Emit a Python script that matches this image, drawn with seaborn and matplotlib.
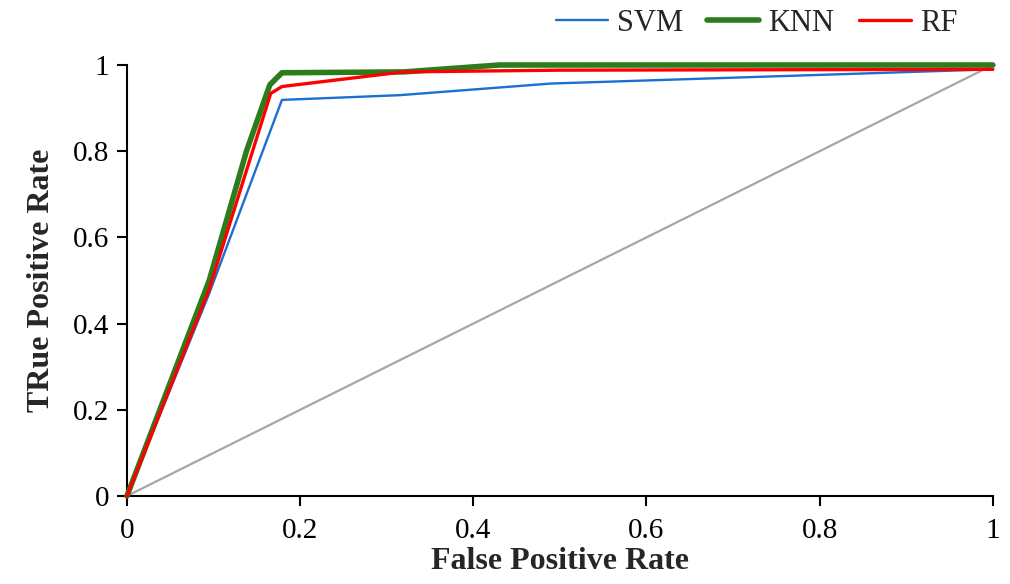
import numpy as np
import pandas as pd
import matplotlib
matplotlib.use("Agg")
import matplotlib.pyplot as plt
import seaborn as sns

# ROC points
svm_fpr = [0.0, 0.095, 0.179, 0.315, 0.49, 1.0]
svm_tpr = [0.0, 0.47, 0.919, 0.93, 0.957, 0.99]

knn_fpr = [0.0, 0.095, 0.138, 0.165, 0.179, 0.32, 0.43, 1.0]
knn_tpr = [0.0, 0.50, 0.80, 0.954, 0.982, 0.984, 1.0, 1.0]

rf_fpr = [0.0, 0.095, 0.166, 0.179, 0.319, 0.5, 1.0]
rf_tpr = [0.0, 0.48, 0.934, 0.95, 0.984, 0.988, 0.99]

ref_fpr = [0.0, 1.0]
ref_tpr = [0.0, 1.0]

sns.set_style("white")
plt.rcParams['font.family'] = ['Liberation Serif', 'DejaVu Serif']

fig = plt.figure(figsize=(10.10, 5.84), dpi=100)
ax = fig.add_axes([0.1257, 0.1507, 0.8573, 0.738])

# diagonal reference line (no legend entry)
sns.lineplot(x=ref_fpr, y=ref_tpr, ax=ax, color='#a6a6a6', linewidth=1.6, zorder=1)

series = [
    ('SVM', svm_fpr, svm_tpr, '#1a6fd0', 1.7),
    ('KNN', knn_fpr, knn_tpr, '#2b7d1c', 4.0),
    ('RF', rf_fpr, rf_tpr, '#ff0000', 2.4),
]
for name, fx, fy, col, lw in series:
    df = pd.DataFrame({'fpr': fx, 'tpr': fy})
    sns.lineplot(data=df, x='fpr', y='tpr', ax=ax, color=col, linewidth=lw,
                 sort=False, estimator=None, label=name, zorder=3,
                 solid_capstyle='round')
for ln in ax.lines:
    ln.set_clip_on(False)

ax.set_xlim(0, 1)
ax.set_ylim(0, 1)
ticks = [0, 0.2, 0.4, 0.6, 0.8, 1]
tick_labels = ['0', '0.2', '0.4', '0.6', '0.8', '1']
ax.set_xticks(ticks)
ax.set_xticklabels(tick_labels)
ax.set_yticks(ticks)
ax.set_yticklabels(tick_labels)
ax.tick_params(axis='both', direction='out', length=7, width=1.5,
               labelsize=21, colors='black', bottom=True, left=True)
ax.tick_params(axis='x', pad=9)
ax.tick_params(axis='y', pad=6)

for side in ['top', 'right']:
    ax.spines[side].set_visible(False)
for side in ['left', 'bottom']:
    ax.spines[side].set_color('black')
    ax.spines[side].set_linewidth(1.5)

ax.set_xlabel('False Positive Rate', fontsize=23, fontweight='bold', labelpad=2)
ax.set_ylabel('TRue Positive Rate', fontsize=23, fontweight='bold', labelpad=12)

leg = ax.legend(loc='center right', bbox_to_anchor=(0.96, 0.96),
                bbox_transform=fig.transFigure, ncol=3, frameon=False,
                fontsize=22, handlelength=1.7, handletextpad=0.3,
                columnspacing=0.8, borderaxespad=0)

fig.savefig('out.png', dpi=100)
